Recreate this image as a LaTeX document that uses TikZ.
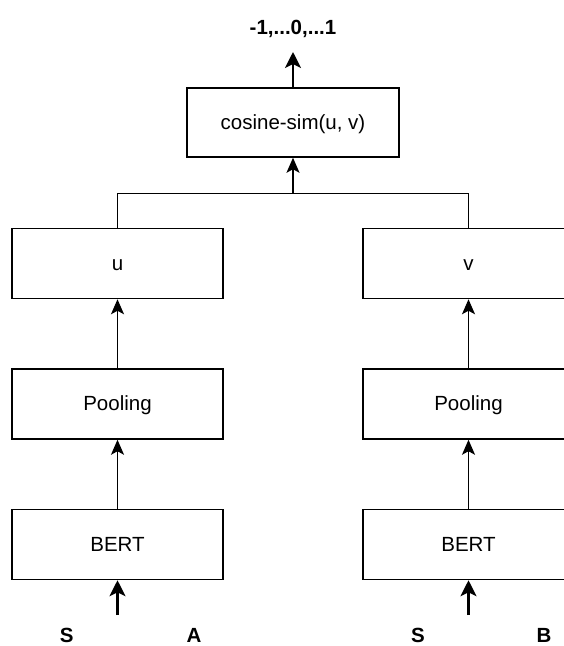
\documentclass[tikz,border=0pt]{standalone}
\usepackage{fontspec}
\setmainfont{Liberation Sans}
\usetikzlibrary{arrows.meta}

\tikzset{
  block/.style={draw=black, line width=1.5pt, minimum width=211pt, minimum height=70pt,
    inner sep=0pt, text height=13.4pt, text depth=0pt,
    font=\fontsize{20.5}{24}\selectfont},
  flow/.style={line width=1.4pt, -{Stealth[length=15pt, width=13pt, inset=3.5pt]}},
  plain/.style={line width=1.4pt},
  bigflow/.style={line width=2.4pt, -{Stealth[length=16pt, width=16pt, inset=4pt]}},
  lbl/.style={anchor=base, inner sep=0pt, font=\fontsize{20.5}{24}\selectfont\bfseries},
}

\begin{document}
\begin{tikzpicture}[x=1pt, y=-1pt]
  \useasboundingbox (0,0) rectangle (564,646);

  % similarity head
  \node[block, minimum width=212pt, minimum height=69pt] (cos) at (293,122.5) {cosine-sim(u, v)};
  \node[lbl] (out) at (293,34) {-1,...0,...1};
  \coordinate (outtip) at (293,52);

  % left branch
  \node[block] (uL)    at (117.5,263.5) {u};
  \node[block] (poolL) at (117.5,404)   {Pooling};
  \node[block] (bertL) at (117.5,544.5) {BERT};

  % right branch
  \node[block] (uR)    at (468.5,263.5) {v};
  \node[block] (poolR) at (468.5,404)   {Pooling};
  \node[block] (bertR) at (468.5,544.5) {BERT};

  % sentence inputs
  \coordinate (inL) at (117.5,615);
  \coordinate (inR) at (468.5,615);
  \node[lbl] (sA1) at (66.7,642.5) {S};
  \node[lbl] (sA2) at (194,642.5)  {A};
  \node[lbl] (sB1) at (418,642.5)  {S};
  \node[lbl] (sB2) at (544,642.5)  {B};

  % connectors
  \draw[bigflow] (inL) -- (bertL.south);
  \draw[bigflow] (inR) -- (bertR.south);
  \draw[flow] (bertL.north) -- (poolL.south);
  \draw[flow] (bertR.north) -- (poolR.south);
  \draw[flow] (poolL.north) -- (uL.south);
  \draw[flow] (poolR.north) -- (uR.south);

  \coordinate (join) at (293,193.3);
  \draw[plain] (uL.north) |- (join) -| (uR.north);
  \draw[flow] (join) -- (cos.south);
  \draw[bigflow] (cos.north) -- (outtip);
\end{tikzpicture}
\end{document}
